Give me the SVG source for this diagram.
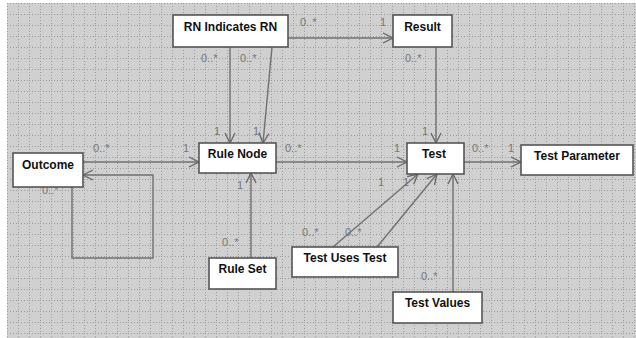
<svg xmlns="http://www.w3.org/2000/svg" width="636" height="338" viewBox="0 0 636 338">
<defs>
<pattern id="grid" x="7" y="3" width="11" height="11" patternUnits="userSpaceOnUse">
<path d="M0 0.5H11M0.5 0V11" stroke="#9c9c9c" stroke-width="1" stroke-dasharray="1,2" fill="none"/>
</pattern>
<marker id="arr" viewBox="0 0 12 12" refX="11" refY="6" markerWidth="12" markerHeight="12" markerUnits="userSpaceOnUse" orient="auto">
<path d="M1 1L11 6L1 11" fill="none" stroke="#666" stroke-width="1.3"/>
</marker>
<style>
.box{fill:#fff;stroke:#555;stroke-width:1.6}
.nt{font-family:"Liberation Sans",Arial,sans-serif;font-weight:bold;font-size:12px;fill:#111;text-anchor:middle}
.ln{fill:none;stroke:#707070;stroke-width:1.4}
.lb{font-family:"Liberation Sans",Arial,sans-serif;font-size:11px;fill:#777}
</style>
</defs>
<rect x="0" y="0" width="636" height="338" fill="#fff"/>
<rect x="7" y="3" width="629" height="335" fill="#d0d0d0"/>
<rect x="7" y="3" width="629" height="335" fill="url(#grid)"/>
<g id="connectors">
<line class="ln" x1="288" y1="38" x2="393" y2="38" marker-end="url(#arr)"/>
<line class="ln" x1="230" y1="47" x2="230" y2="143" marker-end="url(#arr)"/>
<line class="ln" x1="272" y1="47" x2="263" y2="143" marker-end="url(#arr)"/>
<line class="ln" x1="436" y1="47" x2="436" y2="143" marker-end="url(#arr)"/>
<line class="ln" x1="276" y1="162" x2="407" y2="162" marker-end="url(#arr)"/>
<line class="ln" x1="464" y1="162" x2="521" y2="162" marker-end="url(#arr)"/>
<line class="ln" x1="83" y1="162" x2="199" y2="162" marker-end="url(#arr)"/>
<polyline class="ln" points="72,187 72,258 153,258 153,175 83,175" marker-end="url(#arr)"/>
<line class="ln" x1="251" y1="258" x2="251" y2="173" marker-end="url(#arr)"/>
<line class="ln" x1="333" y1="247" x2="418" y2="174" marker-end="url(#arr)"/>
<line class="ln" x1="377" y1="247" x2="437" y2="174" marker-end="url(#arr)"/>
<line class="ln" x1="453" y1="292" x2="453" y2="174" marker-end="url(#arr)"/>
<text class="lb" x="300" y="26">0..*</text>
<text class="lb" x="380" y="26">1</text>
<text class="lb" x="201" y="62">0..*</text>
<text class="lb" x="240" y="62">0..*</text>
<text class="lb" x="214" y="135">1</text>
<text class="lb" x="253" y="135">1</text>
<text class="lb" x="405" y="62">0..*</text>
<text class="lb" x="422" y="135">1</text>
<text class="lb" x="285" y="152">0..*</text>
<text class="lb" x="394" y="152">1</text>
<text class="lb" x="472" y="152">0..*</text>
<text class="lb" x="508" y="152">1</text>
<text class="lb" x="93" y="152">0..*</text>
<text class="lb" x="183" y="152">1</text>
<text class="lb" x="42" y="194">0..*</text>
<text class="lb" x="237" y="189">1</text>
<text class="lb" x="222" y="246">0..*</text>
<text class="lb" x="302" y="236">0..*</text>
<text class="lb" x="345" y="236">0..*</text>
<text class="lb" x="378" y="186">1</text>
<text class="lb" x="403" y="186">1</text>
<text class="lb" x="421" y="280">0..*</text>
</g>
<g id="rn_indicates_rn"><rect class="box" x="173" y="15" width="115" height="32"/><text class="nt" x="230.5" y="31">RN Indicates RN</text></g>
<g id="result"><rect class="box" x="393" y="15" width="59" height="32"/><text class="nt" x="422.5" y="31">Result</text></g>
<g id="outcome"><rect class="box" x="13" y="153" width="70" height="34"/><text class="nt" x="48" y="169">Outcome</text></g>
<g id="rule_node"><rect class="box" x="199" y="143" width="77" height="30"/><text class="nt" x="237.5" y="158">Rule Node</text></g>
<g id="test"><rect class="box" x="407" y="143" width="57" height="31"/><text class="nt" x="434" y="158">Test</text></g>
<g id="test_parameter"><rect class="box" x="521" y="145" width="112" height="30"/><text class="nt" x="577" y="160">Test Parameter</text></g>
<g id="rule_set"><rect class="box" x="209" y="258" width="67" height="31"/><text class="nt" x="242.5" y="273">Rule Set</text></g>
<g id="test_uses_test"><rect class="box" x="292" y="247" width="106" height="30"/><text class="nt" x="345" y="262">Test Uses Test</text></g>
<g id="test_values"><rect class="box" x="393" y="292" width="89" height="31"/><text class="nt" x="437.5" y="307">Test Values</text></g>
</svg>
